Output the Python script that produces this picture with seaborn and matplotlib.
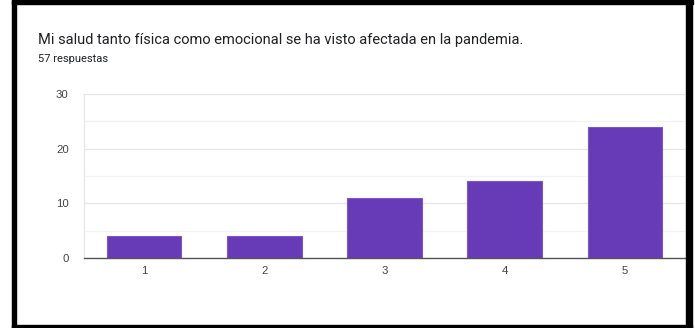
import matplotlib
matplotlib.use("Agg")
import matplotlib.pyplot as plt
import seaborn as sns
import pandas as pd
from matplotlib.patches import Rectangle

# Survey answers on a 1-5 scale
categorias = ["1", "2", "3", "4", "5"]
respuestas = [4, 4, 11, 14, 24]
ticks_y = [0, 10, 20, 30]

titulo = "Mi salud tanto física como emocional se ha visto afectada en la pandemia."
subtitulo = "57 respuestas"

sns.set_theme(style="white")
plt.rcParams["font.family"] = ["Roboto", "DejaVu Sans"]

W, H = 695, 328
fig = plt.figure(figsize=(W / 100, H / 100), dpi=100)
fig.patch.set_facecolor("white")

ax = fig.add_axes([84 / W, 1 - 258 / H, (685 - 84) / W, (258 - 94) / H])

df = pd.DataFrame({"opcion": categorias, "n": respuestas})
sns.barplot(data=df, x="opcion", y="n", color="#673ab7", saturation=1,
            width=0.62, edgecolor="#7e57c2", linewidth=0.8, ax=ax, zorder=3)

ax.set_xlim(-0.5, 4.5)
ax.set_ylim(0, 30)
ax.set_yticks(ticks_y)
ax.set_yticks([5, 15, 25], minor=True)
ax.grid(axis="y", which="major", color="#e6e6e6", linewidth=0.9, zorder=0)
ax.grid(axis="y", which="minor", color="#f3f3f3", linewidth=0.9, zorder=0)
ax.set_axisbelow(True)
ax.set_xlabel("")
ax.set_ylabel("")
for s in ["top", "right"]:
    ax.spines[s].set_visible(False)
ax.spines["left"].set_color("#e6e6e6")
ax.spines["left"].set_linewidth(0.9)
ax.spines["bottom"].set_color("#555555")
ax.spines["bottom"].set_linewidth(1.0)
ax.spines["bottom"].set_zorder(4)
ax.tick_params(axis="both", length=0, labelsize=8.2, labelcolor="#444444")
for lbl in ax.get_xticklabels() + ax.get_yticklabels():
    lbl.set_family(["Liberation Sans", "DejaVu Sans"])
ax.tick_params(axis="y", pad=11)
ax.tick_params(axis="x", pad=6)

fig.text(38 / W, 1 - 40 / H, titulo, fontsize=10.55, color="#202124", va="center", ha="left")
fig.text(38 / W, 1 - 58.5 / H, subtitulo, fontsize=8.0, color="#202124", va="center", ha="left")

# Black frame around the card
frame = [(12, 0, 681, 3.5), (12, 0, 4, 328), (686, 0, 6, 328), (12, 324.5, 680, 3.5)]
for x, y, w, h in frame:
    fig.patches.append(Rectangle((x / W, 1 - (y + h) / H), w / W, h / H,
                                 transform=fig.transFigure, color="black", zorder=10))

fig.savefig("out.png", dpi=100)
